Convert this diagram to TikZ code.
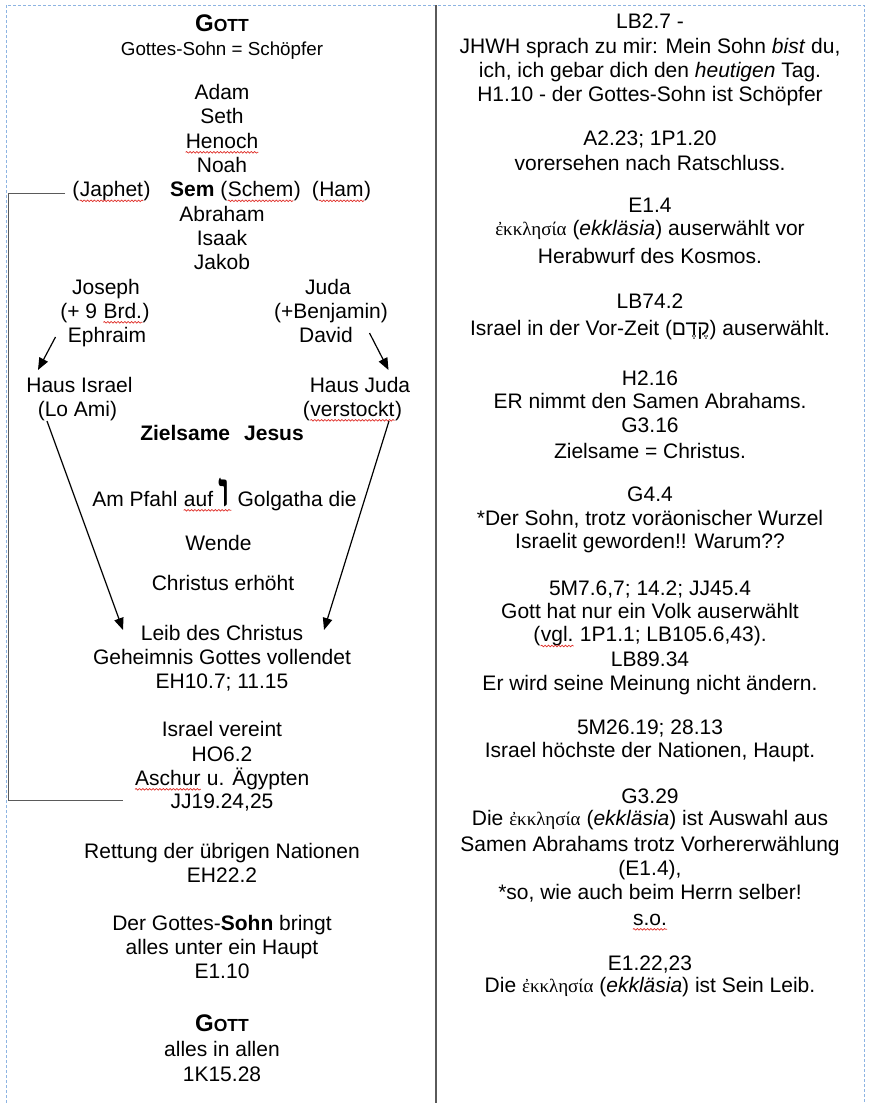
\documentclass[tikz,border=0pt]{standalone}
\usepackage{fontspec}
\setmainfont{Liberation Sans}
\newfontfamily\grkfont{Liberation Serif}
\newfontfamily\hebfont[Script=Hebrew]{Liberation Sans}
\newfontfamily\hebserif[Script=Hebrew]{Liberation Serif}
\TeXXeTstate=1
\usetikzlibrary{arrows.meta,decorations.pathmorphing}
\definecolor{rulegray}{HTML}{5A5A5A}
\definecolor{dashblue}{HTML}{8DB4E2}
\definecolor{spellred}{HTML}{E0302A}
\newcommand\sq[1]{\tikz[baseline=(w.base),x=1pt,y=1pt]{\node[inner sep=0pt,anchor=base](w) at (0,0){#1};\draw[spellred,line width=0.7pt,decorate,decoration={snake,amplitude=0.8pt,segment length=3.4pt}] ([yshift=-4.3pt]w.base west) -- ([yshift=-4.3pt]w.base east);}}
\newcommand\GOTTsc{{\bfseries\fontsize{24}{24}\selectfont G\fontsize{17.5}{18}\selectfont OTT}}
\newcommand\ekk{{\grkfont\fontsize{19}{24}\selectfont ἐκκλησία}}
\tikzset{
  txt/.style={inner sep=0pt, anchor=base, font=\fontsize{21}{24}\selectfont},
  arr/.style={-{Triangle[length=12pt,width=9.5pt]}, line width=1.2pt, black},
  bracketline/.style={draw=rulegray, line width=1.3pt},
  divider/.style={draw=rulegray, line width=2pt},
  frame/.style={draw=dashblue, line width=0.8pt, dash pattern=on 3pt off 2pt}
}
\begin{document}
\begin{tikzpicture}[x=1pt,y=-1pt]
\useasboundingbox[fill=white] (0,0) rectangle (868,1103);
% frame and divider
\draw[frame] (6,1103) -- (6,5) -- (864,5) -- (864,1103);
\draw[divider] (436,5) -- (436,1103);

% ---------- left column ----------
\def\cx{222}
\node[txt] (gott1) at (\cx,31) {\GOTTsc};
\node[txt,font=\fontsize{18.8}{22}\selectfont] (sub) at (\cx,55) {Gottes-Sohn = Schöpfer};
\node[txt] (adam) at (\cx,99) {Adam};
\node[txt] (seth) at (\cx,123.5) {Seth};
\node[txt] (henoch) at (\cx,148) {\sq{Henoch}};
\node[txt] (noah) at (\cx,172) {Noah};
\node[txt] (japhet) at (111.5,196.5) {(\sq{Japhet})};
\node[txt] (sem) at (235.5,196.5) {\textbf{Sem} (\sq{Schem})};
\node[txt] (ham) at (341.5,196.5) {(\sq{Ham})};
\node[txt] (abraham) at (\cx,221) {Abraham};
\node[txt] (isaak) at (\cx,245) {Isaak};
\node[txt] (jakob) at (\cx,269.5) {Jakob};
\node[txt] (joseph) at (106,294) {Joseph};
\node[txt] (brd) at (105,318) {(+ 9 \sq{Brd.})};
\node[txt] (ephraim) at (107,342) {Ephraim};
\node[txt] (juda) at (328,294) {Juda};
\node[txt] (benjamin) at (331,318) {(+Benjamin)};
\node[txt] (david) at (326,342) {David};
\node[txt] (hausisrael) at (79.5,392) {Haus Israel};
\node[txt] (loami) at (77.5,416) {(Lo Ami)};
\node[txt] (hausjuda) at (360,392) {Haus Juda};
\node[txt] (verstockt) at (352.5,416) {(\sq{verstockt})};
\node[txt] (ziel) at (\cx,440) {\textbf{Zielsame\hspace{14pt}Jesus}};
\node[txt] (pfahl) at (224.5,506) {Am Pfahl \sq{auf {\hebserif\bfseries\fontsize{48}{48}\selectfont ו}} Golgatha die};
\node[txt] (wende) at (218.5,550) {Wende};
\node[txt] (erhoht) at (223,590) {Christus erhöht};
\node[txt] (leib) at (\cx,640) {Leib des Christus};
\node[txt] (geheim) at (\cx,664) {Geheimnis Gottes vollendet};
\node[txt] (eh107) at (\cx,688) {EH10.7; 11.15};
\node[txt] (vereint) at (\cx,736.5) {Israel vereint};
\node[txt] (ho62) at (\cx,761) {HO6.2};
\node[txt] (aschur) at (\cx,785) {\sq{Aschur} u. Ägypten};
\node[txt] (jj19) at (\cx,808.5) {JJ19.24,25};
\node[txt] (rettung) at (\cx,858) {Rettung der übrigen Nationen};
\node[txt] (eh222) at (\cx,882) {EH22.2};
\node[txt] (gsohn) at (\cx,930) {Der Gottes-\textbf{Sohn} bringt};
\node[txt] (haupt) at (\cx,954) {alles unter ein Haupt};
\node[txt] (e110) at (\cx,978) {E1.10};
\node[txt] (gott2) at (\cx,1031.5) {\GOTTsc};
\node[txt] (allen) at (\cx,1056.5) {alles in allen};
\node[txt] (k1528) at (\cx,1081.5) {1K15.28};

% connectors
\coordinate (a1s) at (55.5,337);
\coordinate (a1e) at (38,370);
\coordinate (a2s) at (369.5,333);
\coordinate (a2e) at (388.5,370);
\coordinate (a3s) at (47,421);
\coordinate (a3e) at (123,630);
\coordinate (a4s) at (389,421);
\coordinate (a4e) at (324,630);
\draw[arr] (a1s) -- (a1e);
\draw[arr] (a2s) -- (a2e);
\draw[arr] (a3s) -- (a3e);
\draw[arr] (a4s) -- (a4e);
\coordinate (bk1) at (65,193.3);
\coordinate (bk2) at (122.7,800.7);
\draw[bracketline] (bk1) -- (8.5,193.3) |- (bk2);

% ---------- right column ----------
\def\rx{650}
\node[txt] (r01) at (\rx,28.3) {LB2.7 -};
\node[txt] (r02) at (\rx,53.3) {JHWH sprach zu mir: Mein Sohn \textit{bist} du,};
\node[txt] (r03) at (\rx,77.7) {ich, ich gebar dich den \textit{heutigen} Tag.};
\node[txt] (r04) at (\rx,101) {H1.10 - der Gottes-Sohn ist Schöpfer};
\node[txt] (r05) at (\rx,145.7) {A2.23; 1P1.20};
\node[txt] (r06) at (\rx,170) {vorersehen nach Ratschluss.};
\node[txt] (r07) at (\rx,212.3) {E1.4};
\node[txt] (r08) at (\rx,235) {\ekk\ (\textit{ekkläsia}) auserwählt vor};
\node[txt] (r09) at (\rx,263.3) {Herabwurf des Kosmos.};
\node[txt] (r10) at (\rx,308.3) {LB74.2};
\node[txt] (r11) at (\rx,335) {Israel in der Vor-Zeit ({\hebfont\beginR קֶדֶם\endR}) auserwählt.};
\node[txt] (r12) at (\rx,385) {H2.16};
\node[txt] (r13) at (\rx,408.3) {ER nimmt den Samen Abrahams.};
\node[txt] (r14) at (\rx,432.3) {G3.16};
\node[txt] (r15) at (\rx,458.3) {Zielsame = Christus.};
\node[txt] (r16) at (\rx,501.7) {G4.4};
\node[txt] (r17) at (\rx,525) {*Der Sohn, trotz voräonischer Wurzel};
\node[txt] (r18) at (\rx,548.3) {Israelit geworden!! Warum??};
\node[txt] (r19) at (\rx,595) {5M7.6,7; 14.2; JJ45.4};
\node[txt] (r20) at (\rx,618.3) {Gott hat nur ein Volk auserwählt};
\node[txt] (r21) at (\rx,641.7) {(\sq{vgl.} 1P1.1; LB105.6,43).};
\node[txt] (r22) at (\rx,666) {LB89.34};
\node[txt] (r23) at (\rx,690) {Er wird seine Meinung nicht ändern.};
\node[txt] (r24) at (\rx,734.3) {5M26.19; 28.13};
\node[txt] (r25) at (\rx,757.7) {Israel höchste der Nationen, Haupt.};
\node[txt] (r26) at (\rx,803.3) {G3.29};
\node[txt] (r27) at (\rx,825) {Die \ekk\ (\textit{ekkläsia}) ist Auswahl aus};
\node[txt] (r28) at (\rx,851.7) {Samen Abrahams trotz Vorhererwählung};
\node[txt] (r29) at (\rx,875) {(E1.4),};
\node[txt] (r30) at (\rx,899.3) {*so, wie auch beim Herrn selber!};
\node[txt] (r31) at (\rx,925) {\sq{s.o.}};
\node[txt] (r32) at (\rx,970) {E1.22,23};
\node[txt] (r33) at (\rx,992.7) {Die \ekk\ (\textit{ekkläsia}) ist Sein Leib.};
\end{tikzpicture}
\end{document}
